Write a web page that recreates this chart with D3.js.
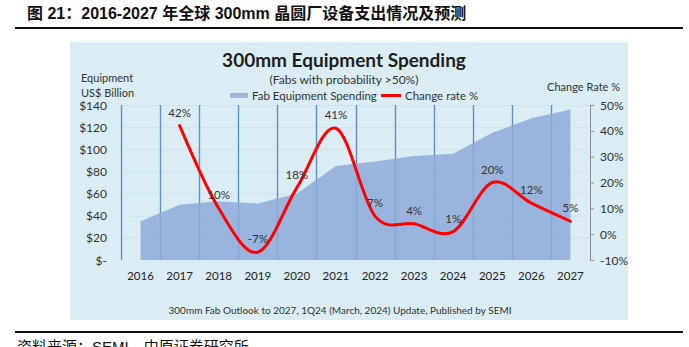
<!DOCTYPE html>
<html>
<head>
<meta charset="utf-8">
<script src="https://cdn.jsdelivr.net/npm/d3@7"></script>
<style>
body { margin: 0; background: #fff; }
svg { display: block; }
</style>
</head>
<body>
<div id="chart"></div>
<script>
"use strict";

// Data
var years = [2016, 2017, 2018, 2019, 2020, 2021, 2022, 2023, 2024, 2025, 2026, 2027];
var spending = [35, 50, 53, 51, 60, 85, 89, 94, 96, 115, 128, 136];
var rateYears = [2017, 2018, 2019, 2020, 2021, 2022, 2023, 2024, 2025, 2026, 2027];
var changeRate = [42, 10, -7, 18, 41, 7, 4, 1, 20, 12, 5];
var leftTicks = [0, 20, 40, 60, 80, 100, 120, 140];
var rightTicks = [-10, 0, 10, 20, 30, 40, 50];

var WIDTH = 689;
var HEIGHT = 347;
var FONT = "Lato, 'Open Sans', sans-serif";
var CN_FONT = "'Liberation Sans', 'Noto Sans CJK SC', sans-serif";

var PLOT_LEFT = 121;
var PLOT_RIGHT = 590;
var PLOT_TOP = 105;
var PLOT_BOTTOM = 260;

var svg = d3.select("#chart").append("svg")
    .attr("width", WIDTH)
    .attr("height", HEIGHT);

var scaleX = d3.scaleBand().domain(years).range([PLOT_LEFT, PLOT_RIGHT]);
var scaleY = d3.scaleLinear().domain([0, 140]).range([PLOT_BOTTOM, PLOT_TOP]);
var scaleR = d3.scaleLinear().domain([-10, 50]).range([PLOT_BOTTOM, PLOT_TOP]);

function mid(year) {
    return scaleX(year) + scaleX.bandwidth() / 2;
}

// Page title and rules
svg.append("text")
    .attr("x", 27)
    .attr("y", 19)
    .style("font-family", CN_FONT)
    .style("font-size", "16px")
    .style("font-weight", "bold")
    .style("fill", "#111")
    .text("图 21：2016-2027 年全球 300mm 晶圆厂设备支出情况及预测");

svg.append("rect").attr("x", 15).attr("y", 27).attr("width", 668).attr("height", 2).attr("fill", "#111");

// Picture panel
svg.append("rect")
    .attr("x", 70).attr("y", 42)
    .attr("width", 558).attr("height", 278)
    .attr("fill", "#dbedf4");

svg.append("text")
    .attr("x", 344).attr("y", 67)
    .attr("text-anchor", "middle")
    .style("font-family", FONT)
    .style("font-size", "19px")
    .style("font-weight", "bold")
    .style("fill", "#1e1e1e")
    .text("300mm Equipment Spending");

svg.append("text")
    .attr("x", 344).attr("y", 84)
    .attr("text-anchor", "middle")
    .style("font-family", FONT)
    .style("font-size", "12px")
    .style("fill", "#333")
    .text("(Fabs with probability >50%)");

// Legend
svg.append("rect").attr("x", 230).attr("y", 93).attr("width", 18).attr("height", 5).attr("fill", "#9fb7dc");
svg.append("text")
    .attr("x", 252).attr("y", 100)
    .style("font-family", FONT).style("font-size", "11.5px").style("fill", "#333")
    .text("Fab Equipment Spending");
svg.append("line")
    .attr("x1", 381).attr("x2", 401).attr("y1", 95.5).attr("y2", 95.5)
    .attr("stroke", "#ff0000").attr("stroke-width", 3);
svg.append("text")
    .attr("x", 405).attr("y", 100)
    .style("font-family", FONT).style("font-size", "11.5px").style("fill", "#333")
    .text("Change rate %");

// Axis titles
svg.append("text").attr("x", 81).attr("y", 82)
    .style("font-family", FONT).style("font-size", "11px").style("fill", "#333")
    .text("Equipment");
svg.append("text").attr("x", 81).attr("y", 97)
    .style("font-family", FONT).style("font-size", "11px").style("fill", "#333")
    .text("US$ Billion");
svg.append("text").attr("x", 620).attr("y", 91)
    .attr("text-anchor", "end")
    .style("font-family", FONT).style("font-size", "11px").style("fill", "#333")
    .text("Change Rate %");

var plot = svg.append("g");

// Horizontal gridlines
plot.selectAll("line.hgrid").data(leftTicks.slice(1)).enter().append("line")
    .attr("class", "hgrid")
    .attr("x1", PLOT_LEFT).attr("x2", PLOT_RIGHT)
    .attr("y1", function (d) { return scaleY(d) + 0.5; })
    .attr("y2", function (d) { return scaleY(d) + 0.5; })
    .attr("stroke", "#cde2eb").attr("stroke-width", 1);

// Vertical gridlines at category boundaries
plot.selectAll("line.vgrid").data(years).enter().append("line")
    .attr("class", "vgrid")
    .attr("x1", function (d) { return Math.round(scaleX(d)) + 0.5; })
    .attr("x2", function (d) { return Math.round(scaleX(d)) + 0.5; })
    .attr("y1", PLOT_TOP).attr("y2", PLOT_BOTTOM)
    .attr("stroke", "#5f8fc8").attr("stroke-width", 1.4);

// Spending area
var areaGenerator = d3.area()
    .x(function (d, i) { return mid(years[i]); })
    .y0(PLOT_BOTTOM)
    .y1(function (d) { return scaleY(d); });

plot.append("path")
    .attr("d", areaGenerator(spending))
    .attr("fill", "#8eaad8")
    .attr("fill-opacity", 0.84);

// Left axis labels
plot.selectAll("text.ltick").data(leftTicks).enter().append("text")
    .attr("class", "ltick")
    .attr("x", 107)
    .attr("y", function (d) { return scaleY(d) + 4.5; })
    .attr("text-anchor", "end")
    .style("font-family", FONT).style("font-size", "12px").style("fill", "#333")
    .text(function (d) { return d == 0 ? "$-" : "$" + d; });

// Right axis
plot.append("line")
    .attr("x1", PLOT_RIGHT + 0.5).attr("x2", PLOT_RIGHT + 0.5)
    .attr("y1", PLOT_TOP).attr("y2", PLOT_BOTTOM)
    .attr("stroke", "#8c8c8c").attr("stroke-width", 1);
plot.selectAll("line.rtickmark").data(rightTicks).enter().append("line")
    .attr("class", "rtickmark")
    .attr("x1", PLOT_RIGHT).attr("x2", PLOT_RIGHT + 4)
    .attr("y1", function (d) { return scaleR(d) + 0.5; })
    .attr("y2", function (d) { return scaleR(d) + 0.5; })
    .attr("stroke", "#8c8c8c").attr("stroke-width", 1);
plot.selectAll("text.rtick").data(rightTicks).enter().append("text")
    .attr("class", "rtick")
    .attr("x", 600)
    .attr("y", function (d) { return scaleR(d) + 4.5; })
    .style("font-family", FONT).style("font-size", "12px").style("fill", "#333")
    .text(function (d) { return d + "%"; });

// Year labels
plot.selectAll("text.year").data(years).enter().append("text")
    .attr("class", "year")
    .attr("x", function (d) { return mid(d); })
    .attr("y", 280)
    .attr("text-anchor", "middle")
    .style("font-family", FONT).style("font-size", "11.5px").style("fill", "#222")
    .text(function (d) { return d; });

// Change rate line (smoothed)
var lineGenerator = d3.line()
    .x(function (d, i) { return mid(rateYears[i]); })
    .y(function (d) { return scaleR(d); })
    .curve(d3.curveCardinal.tension(0));

plot.append("path")
    .attr("d", lineGenerator(changeRate))
    .attr("fill", "none")
    .attr("stroke", "#ff0000")
    .attr("stroke-width", 3)
    .attr("stroke-linecap", "round");

plot.selectAll("text.rate").data(changeRate).enter().append("text")
    .attr("class", "rate")
    .attr("x", function (d, i) { return mid(rateYears[i]); })
    .attr("y", function (d) { return scaleR(d) - 9; })
    .attr("text-anchor", "middle")
    .style("font-family", FONT).style("font-size", "11.5px").style("fill", "#333")
    .text(function (d) { return d + "%"; });

// Source note inside the picture
svg.append("text")
    .attr("x", 340).attr("y", 314)
    .attr("text-anchor", "middle")
    .style("font-family", FONT).style("font-size", "10px").style("fill", "#333")
    .text("300mm Fab Outlook to 2027, 1Q24 (March, 2024) Update, Published by SEMI");

// Bottom rule and page source
svg.append("rect").attr("x", 15).attr("y", 331).attr("width", 668).attr("height", 2).attr("fill", "#111");
svg.append("text")
    .attr("x", 17).attr("y", 352)
    .style("font-family", CN_FONT)
    .style("font-size", "15px")
    .style("fill", "#111")
    .text("资料来源：SEMI，中原证券研究所");
</script>
</body>
</html>
